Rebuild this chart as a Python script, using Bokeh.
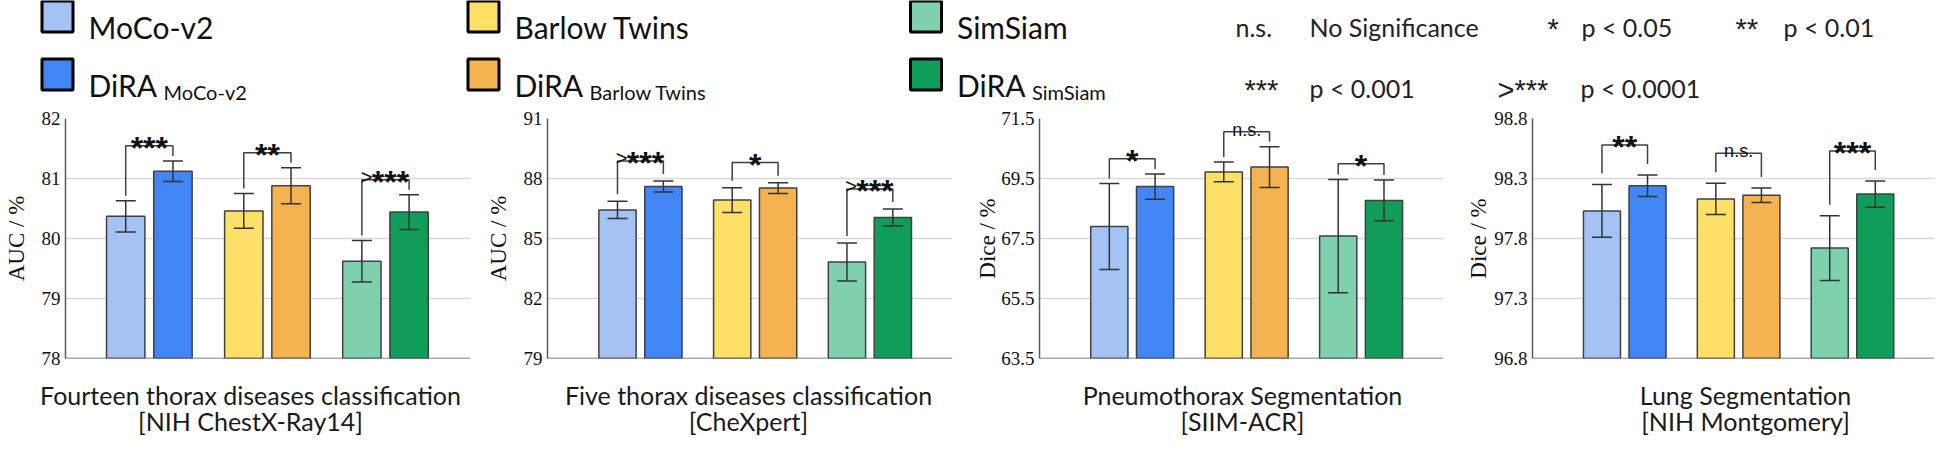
from bokeh.plotting import figure
from bokeh.models import ColumnDataSource, Whisker, TeeHead, FixedTicker, Range1d, Span
from bokeh.layouts import column, row
from bokeh.embed import file_html
from bokeh.resources import INLINE
from bokeh.core.properties import value

# ---------------- data ----------------
methods = ["MoCo-v2", "DiRA MoCo-v2", "Barlow Twins", "DiRA Barlow Twins", "SimSiam", "DiRA SimSiam"]
legend_main = ["MoCo-v2", "DiRA", "Barlow Twins", "DiRA", "SimSiam", "DiRA"]
legend_sub = ["", "MoCo-v2", "", "Barlow Twins", "", "SimSiam"]
colors = ["#a4c2f4", "#4285f4", "#ffe066", "#f4b350", "#7fd1ae", "#109d59"]

title_line1 = ["Fourteen thorax diseases classification", "Five thorax diseases classification",
               "Pneumothorax Segmentation", "Lung Segmentation"]
title_line2 = ["[NIH ChestX-Ray14]", "[CheXpert]", "[SIIM-ACR]", "[NIH Montgomery]"]
y_labels = ["AUC / %", "AUC / %", "Dice / %", "Dice / %"]
y_ticks = [[78, 79, 80, 81, 82],
           [79, 82, 85, 88, 91],
           [63.5, 65.5, 67.5, 69.5, 71.5],
           [96.8, 97.3, 97.8, 98.3, 98.8]]

means_chestx = [80.37, 81.12, 80.46, 80.88, 79.62, 80.44]
errs_chestx = [0.26, 0.17, 0.29, 0.30, 0.345, 0.29]
means_chexpert = [86.43, 87.60, 86.92, 87.52, 83.83, 86.05]
errs_chexpert = [0.43, 0.27, 0.62, 0.27, 0.95, 0.43]
means_siim = [67.90, 69.23, 69.72, 69.88, 67.58, 68.77]
errs_siim = [1.43, 0.42, 0.33, 0.68, 1.89, 0.68]
means_montgomery = [98.03, 98.24, 98.13, 98.16, 97.72, 98.17]
errs_montgomery = [0.22, 0.09, 0.13, 0.06, 0.27, 0.11]
means = [means_chestx, means_chexpert, means_siim, means_montgomery]
errs = [errs_chestx, errs_chexpert, errs_siim, errs_montgomery]

sig_labels = [["***", "**", ">***"],
              [">***", "*", ">***"],
              ["*", "n.s.", "*"],
              ["**", "n.s.", "***"]]
bracket_tops = [[81.545, 81.43, 80.98],
                [88.88, 88.80, 87.48],
                [70.16, 71.06, 69.99],
                [98.58, 98.51, 98.53]]

key_symbols = ["n.s.", "*", "**", "***", ">***"]
key_texts = ["No Significance", "p < 0.05", "p < 0.01", "p < 0.001", "p < 0.0001"]

# ---------------- layout / style ----------------
SANS = "Lato"
SERIF = "Liberation Serif"
AXIS_COL = "#595959"
panel_layout = [
    dict(width=482, left=60, right=12, xstart=0.29, lstand=10, leg_gap=5, title_x=258),
    dict(width=490, left=60, right=20, xstart=0.19, lstand=10, leg_gap=7, title_x=756),
    dict(width=491, left=62, right=20, xstart=0.19, lstand=-2, leg_gap=5, title_x=1250),
    dict(width=471, left=64, right=0, xstart=0.19, lstand=0, leg_gap=11, title_x=1753),
]
FRAME_H = 240
TOP_B = 12
BOT_B = 14
BAR_W = 0.325
OFF = 0.2
LEG_H = 106
TIT_H = 66


def make_panel(k):
    lay = panel_layout[k]
    ticks = y_ticks[k]
    y0, y1 = ticks[0], ticks[-1]
    ppu = FRAME_H / (y1 - y0)
    p = figure(width=lay["width"], height=FRAME_H + TOP_B + BOT_B,
               x_range=Range1d(lay["xstart"], 3.72),
               y_range=Range1d(y0, y1), output_backend="svg", toolbar_location=None,
               title=None, x_axis_location=None,
               min_border_left=lay["left"], min_border_right=lay["right"],
               min_border_top=TOP_B, min_border_bottom=BOT_B)
    p.outline_line_color = None
    p.background_fill_color = "white"
    p.border_fill_color = "white"
    p.xgrid.visible = False
    p.ygrid.ticker = FixedTicker(ticks=ticks)
    p.ygrid.grid_line_color = "#d9d9d9"
    p.ygrid.grid_line_width = 1.5
    ax = p.yaxis[0]
    ax.ticker = FixedTicker(ticks=ticks)
    ax.axis_label = y_labels[k]
    ax.axis_label_text_font = SERIF
    ax.axis_label_text_font_size = "23px"
    ax.axis_label_text_font_style = "normal"
    ax.axis_label_text_color = "#111111"
    ax.axis_label_standoff = lay["lstand"]
    ax.major_label_text_font = SERIF
    ax.major_label_text_font_size = "19px"
    ax.major_label_text_color = "#111111"
    ax.major_label_standoff = 5
    ax.major_tick_out = 0
    ax.major_tick_in = 0
    ax.minor_tick_line_color = None
    ax.axis_line_color = AXIS_COL
    ax.axis_line_width = 1.5

    xs = [(i // 2) + 1 + (-OFF if i % 2 == 0 else OFF) for i in range(6)]
    m = means[k]
    e = errs[k]
    src = ColumnDataSource(dict(x=xs, top=m, upper=[a + b for a, b in zip(m, e)],
                                lower=[a - b for a, b in zip(m, e)], color=colors, name=methods))
    p.vbar(x="x", top="top", bottom=y0, width=BAR_W, fill_color="color",
           line_color="#404040", line_width=1.5, source=src)
    w = Whisker(source=src, base="x", upper="upper", lower="lower", line_color="#333333",
                line_width=1.5,
                upper_head=TeeHead(size=20, line_color="#333333", line_width=1.5),
                lower_head=TeeHead(size=20, line_color="#333333", line_width=1.5))
    w.level = "overlay"
    p.add_layout(w)
    p.add_layout(Span(location=y0, dimension="width", line_color=AXIS_COL, line_width=1.5))

    bx, by = [], []
    star_x, star_y, star_t, star_off = [], [], [], []
    gt_x, gt_y = [], []
    ns_x, ns_y = [], []
    gap = lay["leg_gap"] / ppu
    for g in range(3):
        c = g + 1
        top = bracket_tops[k][g]
        lb = m[2 * g] + e[2 * g] + gap
        rb = m[2 * g + 1] + e[2 * g + 1] + gap
        bx.append([c - OFF, c - OFF, c + OFF, c + OFF])
        by.append([lb, top, top, rb])
        lab = sig_labels[k][g]
        if lab == "n.s.":
            ns_x.append(c)
            ns_y.append(top)
        else:
            stars = lab.lstrip(">")
            star_x.append(c)
            star_y.append(top)
            star_t.append(stars)
            if lab.startswith(">"):
                star_off.append(5)
                gt_x.append(c)
                gt_y.append(top)
            else:
                star_off.append(0)
    p.multi_line(xs=bx, ys=by, line_color="#404040", line_width=1.5)
    if star_x:
        p.text(x=star_x, y=star_y, text=star_t, x_offset=star_off, y_offset=2,
               text_font=value("Liberation Sans"), text_font_style="bold",
               text_font_size="32px", text_align="center", text_baseline="alphabetic",
               text_color="#111111")
    if gt_x:
        p.text(x=gt_x, y=gt_y, text=[">"] * len(gt_x), x_offset=-13, y_offset=-3,
               text_font=value("Liberation Sans"), text_font_size="20px",
               text_align="right", text_baseline="alphabetic", text_color="#111111")
    if ns_x:
        p.text(x=ns_x, y=ns_y, text=["n.s."] * len(ns_x), y_offset=-2,
               text_font=value("Liberation Sans"), text_font_size="18px",
               text_align="center", text_baseline="alphabetic", text_color="#111111")
    return p


def blank(width, height):
    f = figure(width=width, height=height, x_range=Range1d(8, 8 + width),
               y_range=Range1d(0, height), output_backend="svg",
               toolbar_location=None, title=None, x_axis_location=None, y_axis_location=None,
               min_border_left=0, min_border_right=0, min_border_top=0, min_border_bottom=0)
    f.outline_line_color = None
    f.grid.visible = False
    f.background_fill_color = "white"
    f.border_fill_color = "white"
    return f


def to_data(page_y, top, height):
    return height - (page_y - top)


TOTAL_W = 1934
LEG_TOP = 8
leg = blank(TOTAL_W, LEG_H)
col_x = [65, 491, 933.5]
row_y = [24, 82]
sq_x = [col_x[i // 2] for i in range(6)]
sq_y = [to_data(row_y[i % 2], LEG_TOP, LEG_H) for i in range(6)]
leg.rect(x=sq_x, y=sq_y, width=31, height=31, fill_color=colors, line_color="black", line_width=3)
base_y = [34, 92]
leg.text(x=[x + 31 for x in sq_x], y=[to_data(base_y[i % 2], LEG_TOP, LEG_H) for i in range(6)],
         text=legend_main, text_font=value(SANS), text_font_size="30px",
         text_baseline="alphabetic", text_color="#111111")
sub_idx = [i for i in range(6) if legend_sub[i]]
leg.text(x=[sq_x[i] + 31 for i in sub_idx], y=[to_data(99, LEG_TOP, LEG_H)] * len(sub_idx),
         text=[legend_sub[i] for i in sub_idx], x_offset=75,
         text_font=value(SANS), text_font_size="20px", text_baseline="alphabetic",
         text_color="#111111")
key_sym_x = [1243, 1555, 1743, 1252, 1505]
key_txt_x = [1317, 1589, 1791, 1317, 1588]
key_py = [34, 34, 34, 95, 95]
key_y = [to_data(v, LEG_TOP, LEG_H) for v in key_py]
star_keys = [i for i in range(5) if key_symbols[i] != "n.s."]
leg.text(x=[key_sym_x[0]], y=[key_y[0]], text=[key_symbols[0]], text_font=value(SANS),
         text_font_size="25px", text_baseline="alphabetic", text_color="#222222")
leg.text(x=[key_sym_x[i] for i in star_keys], y=[key_y[i] for i in star_keys],
         text=[key_symbols[i] for i in star_keys], y_offset=2,
         text_font=value("Liberation Sans"), text_font_size="29px",
         text_baseline="alphabetic", text_color="#222222")
leg.text(x=key_txt_x, y=key_y, text=key_texts, text_font=value(SANS), text_font_size="25px",
         text_baseline="alphabetic", text_color="#222222")

panels = [make_panel(k) for k in range(4)]

TIT_TOP = LEG_TOP + LEG_H + FRAME_H + TOP_B + BOT_B
tit = blank(TOTAL_W, TIT_H)
tx = [lay["title_x"] for lay in panel_layout]
tit.text(x=tx, y=[to_data(402, TIT_TOP, TIT_H)] * 4, text=title_line1, text_font=value(SANS),
         text_font_size="25px", text_align="center", text_baseline="middle", text_color="#1a1a1a")
tit.text(x=tx, y=[to_data(428, TIT_TOP, TIT_H)] * 4, text=title_line2, text_font=value(SANS),
         text_font_size="25px", text_align="center", text_baseline="middle", text_color="#1a1a1a")

layout = column(leg, row(*panels), tit)
open("out.html", "w").write(file_html(layout, INLINE))
